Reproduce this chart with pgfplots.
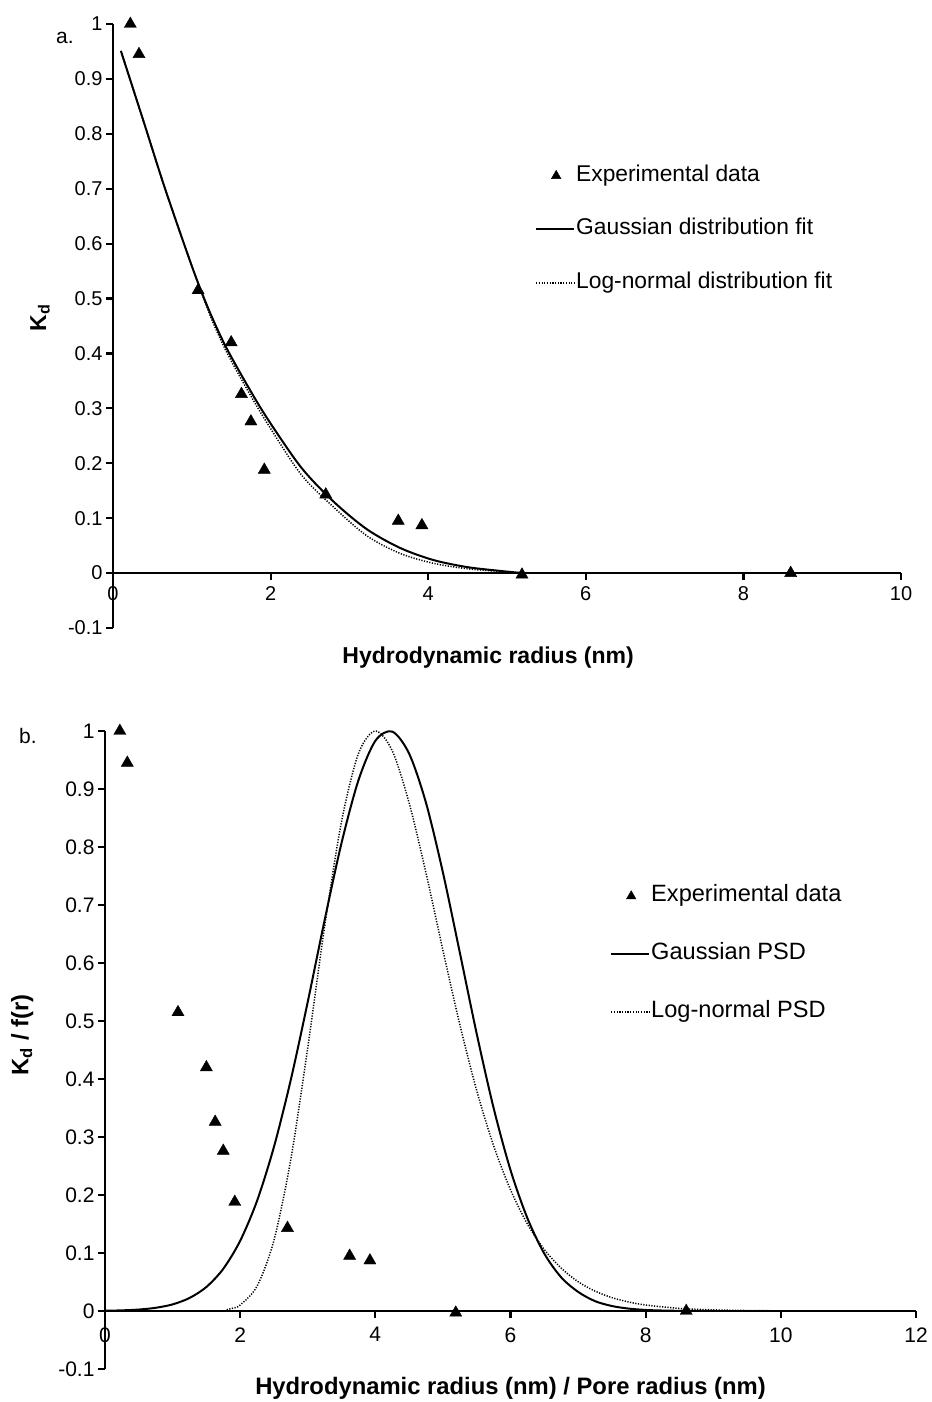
\documentclass[border=0pt]{standalone}
\usepackage{fontspec}
\setmainfont{Liberation Sans}
\usepackage{pgfplots}
\pgfplotsset{compat=1.18}

\pgfplotsset{
  myaxis/.style={
    scale only axis,
    axis x line=middle, axis y line=left,
    axis line style={-, line width=2.5bp, black},
    tick align=outside,
    major tick length=7bp,
    tick style={line width=2.2bp, black},
    hide obscured x ticks=false, hide obscured y ticks=false,
    /pgf/number format/assume math mode=true,
    clip=false,
    legend cell align=left,
  },
  markimg/.style={legend image code/.code={\path[draw=none,fill=none] (0bp,0bp) -- (38bp,0bp); \path[##1, draw=none, mark size=5.5bp] plot[mark=triangle*, mark options={draw=black,fill=black}] coordinates {(20bp,0bp)};}},
  lineimg/.style={legend image code/.code={\draw[##1] (0bp,0bp) -- (38bp,0bp);}},
}

\begin{document}
\begin{tikzpicture}
\path[use as bounding box] (0bp,0bp) rectangle (932bp,1402bp);

% ---------------- panel a ----------------
\begin{axis}[myaxis,
  at={(113bp,774bp)}, anchor=south west,
  width=788bp, height=604bp,
  xmin=0, xmax=10, ymin=-0.1, ymax=1,
  xtick={0,2,4,6,8,10},
  ytick={-0.1,0,0.1,0.2,0.3,0.4,0.5,0.6,0.7,0.8,0.9,1},
  yticklabels={-0.1,0,0.1,0.2,0.3,0.4,0.5,0.6,0.7,0.8,0.9,1},
  ticklabel style={font=\fontsize{20bp}{24bp}\selectfont},
  xticklabel style={yshift=-3bp},
  xlabel={\textbf{Hydrodynamic radius (nm)}},
  ylabel={\textbf{K\textsubscript{d}}},
  label style={font=\fontsize{23bp}{28bp}\selectfont},
  xlabel style={at={(axis description cs:0.476,-0.0497)}, anchor=center},
  ylabel style={at={(axis description cs:-0.0926,0.513)}, anchor=center, rotate=0},
  legend style={at={(0.5355,0.768)}, anchor=north west, draw=none, fill=none,
    inner sep=0pt, row sep=30.5bp, font=\fontsize{22.8bp}{27bp}\selectfont,
    nodes={inner sep=1bp, text height=16bp, text depth=5bp}},
]
\addplot[only marks, mark=triangle*, mark size=7bp, black, markimg] coordinates {
(0.22,1.0) (0.33,0.945) (1.08,0.515) (1.50,0.42) (1.63,0.326) (1.75,0.276)
(1.92,0.188) (2.70,0.143) (3.62,0.095) (3.92,0.087) (5.19,-0.003) (8.60,0.0)
};
\addlegendentry{Experimental data}
\addplot[black, line width=2bp, smooth, lineimg] coordinates {
(0.10,0.951) (0.385,0.824) (0.64,0.709) (0.90,0.600) (1.08,0.528) (1.25,0.468)
(1.44,0.410) (1.72,0.338) (1.97,0.279) (2.39,0.192) (2.80,0.130) (3.22,0.080)
(3.64,0.046) (4.06,0.024) (4.49,0.011) (4.91,0.004) (5.20,0.0)
};
\addlegendentry{Gaussian distribution fit}
\addplot[black, line width=1.5bp, dash pattern=on 1.2bp off 1.5bp, smooth, lineimg] coordinates {
(0.10,0.951) (0.385,0.824) (0.64,0.709) (0.90,0.600) (1.08,0.528) (1.25,0.463)
(1.44,0.403) (1.72,0.330) (1.97,0.270) (2.39,0.179) (2.80,0.120) (3.22,0.068)
(3.64,0.036) (4.06,0.018) (4.49,0.008) (4.91,0.003) (5.20,0.0)
};
\addlegendentry{Log-normal distribution fit}
\end{axis}

% ---------------- panel b ----------------
\begin{axis}[myaxis,
  at={(105bp,33bp)}, anchor=south west,
  width=811bp, height=638bp,
  xmin=0, xmax=12, ymin=-0.1, ymax=1,
  xtick={0,2,4,6,8,10,12},
  ytick={-0.1,0,0.1,0.2,0.3,0.4,0.5,0.6,0.7,0.8,0.9,1},
  yticklabels={-0.1,0,0.1,0.2,0.3,0.4,0.5,0.6,0.7,0.8,0.9,1},
  ticklabel style={font=\fontsize{21bp}{25bp}\selectfont},
  xticklabel style={yshift=-6bp},
  xlabel={\textbf{Hydrodynamic radius (nm) / Pore radius (nm)}},
  ylabel={\textbf{K\textsubscript{d} / f(r)}},
  label style={font=\fontsize{23.8bp}{28bp}\selectfont},
  xlabel style={at={(axis description cs:0.5,-0.0298)}, anchor=center},
  ylabel style={at={(axis description cs:-0.102,0.5235)}, anchor=center, rotate=0},
  legend style={at={(0.6227,0.7594)}, anchor=north west, draw=none, fill=none,
    inner sep=0pt, row sep=35bp, font=\fontsize{23.6bp}{28bp}\selectfont,
    nodes={inner sep=1bp, text height=16bp, text depth=5bp}},
]
\addplot[only marks, mark=triangle*, mark size=7bp, black, markimg] coordinates {
(0.22,1.0) (0.33,0.945) (1.08,0.515) (1.50,0.42) (1.63,0.326) (1.75,0.276)
(1.92,0.188) (2.70,0.143) (3.62,0.095) (3.92,0.087) (5.19,-0.003) (8.60,0.0)
};
\addlegendentry{Experimental data}
\addplot[black, line width=2bp, smooth, lineimg] coordinates {
(0,0.00045) (0.25,0.0011) (0.5,0.0025) (0.75,0.0055) (1.0,0.0114) (1.25,0.0224)
(1.5,0.0414) (1.75,0.0727) (2.0,0.121) (2.25,0.190) (2.5,0.283) (2.75,0.399)
(3.0,0.533) (3.25,0.674) (3.5,0.807) (3.75,0.915) (4.0,0.983) (4.25,0.999)
(4.5,0.961) (4.75,0.876) (5.0,0.756) (5.25,0.618) (5.5,0.478) (5.75,0.350)
(6.0,0.243) (6.25,0.160) (6.5,0.099) (6.75,0.058) (7.0,0.033) (7.25,0.017)
(7.5,0.0086) (7.75,0.0041) (8.0,0.0018) (8.25,0.0008) (8.5,0.0003) (8.75,0.0001) (9.0,0.0)
};
\addlegendentry{Gaussian PSD}
\addplot[black, line width=1.5bp, dash pattern=on 1.2bp off 1.5bp, smooth, lineimg] coordinates {
(1.8,0.0023) (1.9,0.0051) (2.0,0.0103) (2.25,0.0428) (2.5,0.122) (2.75,0.262)
(3.0,0.454) (3.25,0.663) (3.5,0.844) (3.75,0.961) (4.0,1.0) (4.25,0.966)
(4.5,0.876) (4.75,0.755) (5.0,0.622) (5.25,0.494) (5.5,0.380) (5.75,0.285)
(6.0,0.209) (6.25,0.150) (6.5,0.106) (6.75,0.074) (7.0,0.0505) (7.25,0.0343) (7.5,0.0231)
(7.75,0.0155) (8.0,0.0103) (8.5,0.0044) (9.0,0.0019) (9.5,0.0008) (10.0,0.0003)
};
\addlegendentry{Log-normal PSD}
\end{axis}

\node[font=\fontsize{21bp}{25bp}\selectfont] at (65bp,1364bp) {a.};
\node[font=\fontsize{21bp}{25bp}\selectfont] at (28bp,666bp) {b.};
\end{tikzpicture}
\end{document}
